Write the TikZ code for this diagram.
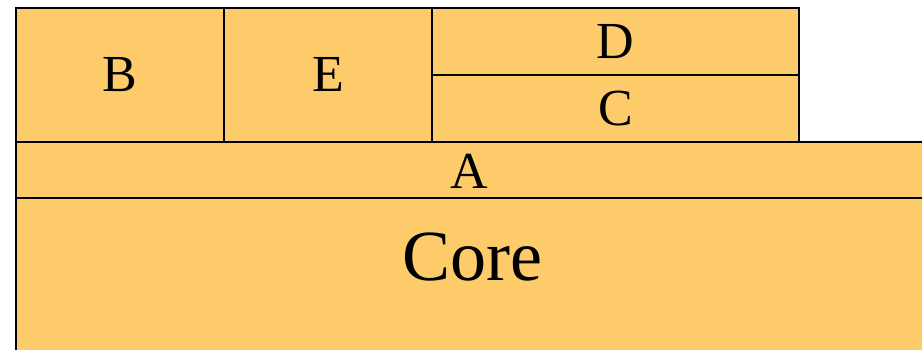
\documentclass[tikz,border=0pt]{standalone}
\usepackage{fontspec}
\setmainfont{Liberation Serif}
\definecolor{layerfill}{RGB}{254,203,106}
\begin{document}
\begin{tikzpicture}[x=1pt,y=-1pt,
  layer/.style={draw=black,line width=1.8pt,fill=layerfill,inner sep=0pt,
    anchor=north west,font=\fontsize{52}{52}\selectfont},
  bigtext/.style={inner sep=0pt,font=\fontsize{72}{72}\selectfont}]
\useasboundingbox (0,0) rectangle (922,350);
\clip (0,0) rectangle (922,350);
% bottom layers
\node[layer,minimum width=930pt,minimum height=180pt] (core) at (15,197) {};
\node[bigtext] (corelabel) at (472,257) {Core};
\node[layer,minimum width=930pt,minimum height=56pt] (a) at (15,141) {};
\node[font=\fontsize{52}{52}\selectfont,inner sep=0pt] (alabel) at (469,171) {A};
% top row
\node[layer,minimum width=208pt,minimum height=134pt] (b) at (15,7) {B};
\node[layer,minimum width=208pt,minimum height=134pt] (e) at (223,7) {E};
\node[layer,minimum width=367pt,minimum height=67pt] (d) at (431,7) {D};
\node[layer,minimum width=367pt,minimum height=67pt] (c) at (431,74) {C};
\end{tikzpicture}
\end{document}
